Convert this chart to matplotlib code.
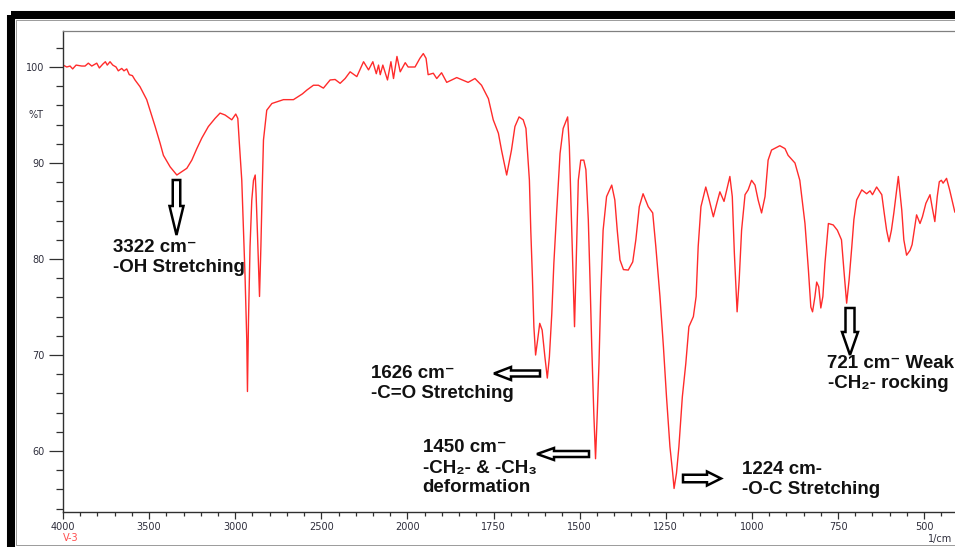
import numpy as np
import matplotlib
matplotlib.use('Agg')
import matplotlib.pyplot as plt
from matplotlib.ticker import FixedLocator
from matplotlib.patches import FancyArrow, Rectangle

# FTIR spectrum (wavenumber in 1/cm, %T)
wavenumber = [
    4000, 3978, 3959, 3944, 3924, 3891, 3872, 3853, 3833, 3804, 3789, 3769,
    3754, 3743, 3727, 3711, 3692, 3679, 3659, 3646, 3630, 3615, 3597, 3582,
    3553, 3514, 3465, 3436, 3417, 3378, 3339, 3310, 3281, 3252, 3223, 3194,
    3156, 3117, 3088, 3059, 3020, 2997, 2985, 2976, 2962, 2952, 2943, 2933,
    2929, 2923, 2914, 2904, 2894, 2884, 2879, 2871, 2859, 2851, 2844, 2836,
    2817, 2787, 2720, 2662, 2610, 2584, 2546, 2517, 2488, 2449, 2420, 2391,
    2362, 2333, 2294, 2255, 2226, 2201, 2181, 2168, 2158, 2143, 2116, 2096,
    2081, 2061, 2042, 2013, 1998, 1978, 1964, 1954, 1946, 1940, 1925, 1915,
    1901, 1886, 1857, 1824, 1804, 1785, 1765, 1751, 1736, 1727, 1712, 1698,
    1688, 1676, 1664, 1656, 1646, 1642, 1637, 1633, 1628, 1622, 1616, 1609,
    1601, 1594, 1588, 1581, 1575, 1567, 1557, 1548, 1535, 1530, 1525, 1520,
    1515, 1509, 1504, 1497, 1488, 1482, 1475, 1470, 1465, 1459, 1454, 1449,
    1444, 1439, 1432, 1422, 1407, 1398, 1391, 1383, 1373, 1359, 1346, 1337,
    1327, 1316, 1301, 1288, 1279, 1267, 1257, 1248, 1238, 1230, 1226, 1219,
    1212, 1202, 1192, 1183, 1170, 1162, 1156, 1148, 1134, 1124, 1112, 1102,
    1093, 1081, 1064, 1057, 1051, 1043, 1037, 1030, 1020, 1011, 1001, 991,
    982, 972, 962, 953, 943, 919, 904, 895, 875, 861, 846, 836,
    829, 824, 817, 812, 806, 800, 794, 788, 778, 764, 752, 740,
    733, 725, 718, 710, 704, 696, 681, 667, 657, 650, 638, 623,
    616, 609, 602, 595, 588, 575, 570, 565, 559, 551, 541, 535,
    527, 522, 512, 505, 495, 483, 477, 469, 462, 456, 450, 445,
    435, 426, 411,
]
transmittance = [
    100.2, 100.0, 100.1, 99.8, 100.2, 100.1, 100.1, 100.4, 100.1, 100.4, 99.9, 100.3,
    100.55, 100.2, 100.55, 100.2, 100.0, 99.6, 99.85, 99.6, 99.8, 99.2, 99.1, 98.65,
    97.95, 96.6, 93.8, 92.05, 90.8, 89.6, 88.75, 89.1, 89.45, 90.3, 91.5, 92.6,
    93.8, 94.65, 95.2, 95.0, 94.5, 95.1, 94.65, 92.05, 88.2, 83.0, 78.2, 71.6,
    66.2, 73.6, 81.3, 86.1, 88.2, 88.75, 86.8, 82.7, 76.1, 81.3, 86.8, 92.4,
    95.5, 96.2, 96.6, 96.6, 97.2, 97.6, 98.1, 98.1, 97.8, 98.65, 98.7, 98.3,
    98.8, 99.5, 99.0, 100.55, 99.7, 100.55, 99.3, 100.2, 99.2, 100.2, 98.65, 100.55,
    98.8, 101.1, 99.5, 100.45, 100.0, 100.0, 100.9, 101.4, 100.9, 99.2, 99.35, 98.8,
    99.4, 98.4, 98.9, 98.4, 98.8, 98.1, 96.7, 94.5, 93.1, 91.35, 88.75, 91.35,
    93.8, 94.8, 94.5, 93.6, 88.2, 83.0, 77.8, 72.95, 70.0, 71.6, 73.3, 72.6,
    69.8, 67.6, 69.8, 74.3, 79.55, 84.8, 91.0, 93.6, 94.8, 91.7, 85.45, 79.2,
    72.95, 81.3, 88.2, 90.3, 90.3, 89.3, 84.1, 77.8, 70.9, 63.9, 59.2, 63.9,
    69.1, 76.1, 83.0, 86.5, 87.7, 86.15, 83.0, 79.9, 78.9, 78.85, 79.7, 82.0,
    85.45, 86.8, 85.45, 84.8, 81.3, 76.1, 70.9, 65.65, 60.45, 57.7, 56.1, 57.7,
    60.45, 65.65, 69.1, 72.95, 74.0, 76.1, 81.3, 85.45, 87.5, 86.15, 84.4, 85.8,
    87.0, 86.0, 88.6, 86.5, 80.6, 74.5, 77.8, 83.0, 86.7, 87.2, 88.2, 87.7,
    86.15, 84.8, 86.5, 90.3, 91.35, 91.8, 91.5, 90.8, 90.0, 88.2, 83.7, 78.85,
    75.0, 74.5, 76.1, 77.6, 77.1, 74.9, 76.1, 79.55, 83.7, 83.55, 83.0, 82.0,
    78.85, 75.4, 77.8, 81.3, 84.1, 86.15, 87.2, 86.8, 87.1, 86.7, 87.5, 86.7,
    84.8, 83.0, 81.8, 83.0, 84.8, 88.6, 86.8, 85.1, 82.0, 80.4, 80.9, 81.5,
    83.4, 84.6, 83.7, 84.4, 85.8, 86.7, 85.45, 83.9, 86.5, 88.05, 88.2, 87.9,
    88.4, 87.2, 84.9,
]

x_major = [4000, 3500, 3000, 2500, 2000, 1750, 1500, 1250, 1000, 750, 500]
y_major = [60, 70, 80, 90, 100]

# label text, left x / centre y in pixels
labels = [
    ("3322 cm\u207b", 113, 247.5),
    ("-OH Stretching", 113, 267.5),
    ("1626 cm\u207b", 371, 374),
    ("-C=O Stretching", 371, 394),
    ("1450 cm\u207b", 422.5, 447.5),
    ("-CH\u2082- & -CH\u2083", 422.5, 469),
    ("deformation", 422.5, 488),
    ("1224 cm-", 741.5, 470),
    ("-O-C Stretching", 741.5, 489.5),
    ("721 cm\u207b Weak", 826.5, 363),
    ("-CH\u2082- rocking", 828, 384),
]
# hollow arrows: tail x, tail y, tip x, tip y, shaft width, head width, head length
arrows = [
    (176.5, 180, 176.5, 235, 7.5, 14, 29),
    (540, 373.5, 494, 373.5, 6, 13, 17),
    (589, 454, 537, 454, 6, 12, 17),
    (683, 478.5, 721, 478.5, 7.5, 14, 14),
    (850, 308, 850, 355, 9, 16, 23),
]

W, H = 955, 547
fig = plt.figure(figsize=(W / 100, H / 100), dpi=100)
fig.patch.set_facecolor('white')

ax = fig.add_axes([63 / W, (H - 512) / H, 895.6 / W, 481 / H])


def fwd(x):
    x = np.asarray(x, dtype=float)
    return np.where(x > 2000, 2000 + (x - 2000) * 0.5, x)


def inv(y):
    y = np.asarray(y, dtype=float)
    return np.where(y > 2000, 2000 + (y - 2000) * 2.0, y)


ax.set_xscale('function', functions=(fwd, inv))
ax.plot(wavenumber, transmittance, color='#ff2b2b', lw=1.0)
ax.set_xlim(4000, 400)
ax.set_ylim(53.65, 103.75)

x_minor = [v for v in range(450, 2000, 50)] + [v for v in range(2100, 4000, 100)]
ax.xaxis.set_major_locator(FixedLocator(x_major))
ax.xaxis.set_minor_locator(FixedLocator(x_minor))
ax.set_xticklabels([str(v) for v in x_major])
ax.yaxis.set_major_locator(FixedLocator(y_major))
ax.yaxis.set_minor_locator(FixedLocator(list(range(54, 103, 2))))
ax.set_yticklabels([str(v) for v in y_major])

tick_col = '#2e2e3c'
ax.tick_params(axis='x', which='major', direction='out', length=5, width=0.9,
               color='#303030', labelsize=7, labelcolor=tick_col, pad=2.5)
ax.tick_params(axis='x', which='minor', direction='out', length=2.6, width=0.9,
               color='#303030')
ax.tick_params(axis='y', which='major', direction='out', length=10, width=0.9,
               color='#303030', labelsize=7, labelcolor=tick_col, pad=3.5)
ax.tick_params(axis='y', which='minor', direction='out', length=5, width=0.9,
               color='#303030')
for lab in ax.get_xticklabels() + ax.get_yticklabels():
    lab.set_fontfamily('DejaVu Sans')

for s in ('left', 'bottom'):
    ax.spines[s].set_color('#303030')
    ax.spines[s].set_linewidth(1.0)
ax.spines['top'].set_color('#808080')
ax.spines['top'].set_linewidth(0.9)
ax.spines['right'].set_visible(False)

ax.text(-20 / 895.6, 95, '%T', transform=ax.get_yaxis_transform(),
        ha='right', va='center', fontsize=7, color=tick_col,
        family='DejaVu Sans')

# overlay in pixel coordinates for frame and annotations
ov = fig.add_axes([0, 0, 1, 1], facecolor='none')
ov.set_xlim(0, W)
ov.set_ylim(H, 0)
ov.axis('off')

ov.add_patch(Rectangle((11.3, 15), 1000, 534, fill=False, edgecolor='black',
                       lw=5.8))
ov.add_patch(Rectangle((15.8, 19.5), 1000, 525.5, fill=False, edgecolor='#9a9a9a',
                       lw=0.7))

ov.text(63, 538, 'V-3', color='#ff4d4d', fontsize=7, ha='left', va='center',
        family='DejaVu Sans')
ov.text(952, 539, '1/cm', color=tick_col, fontsize=7, ha='right', va='center',
        family='DejaVu Sans')

for txt, x, y in labels:
    ov.text(x, y, txt, ha='left', va='center', fontsize=13.5, fontweight='bold',
            family=['Liberation Sans', 'DejaVu Sans'], color='#111111')

for x0, y0, x1, y1, w, hw, hl in arrows:
    ov.add_patch(FancyArrow(x0, y0, x1 - x0, y1 - y0, width=w, head_width=hw,
                            head_length=hl, length_includes_head=True,
                            facecolor='white', edgecolor='black', lw=1.8,
                            joinstyle='miter'))

fig.savefig('out.png', dpi=100)
